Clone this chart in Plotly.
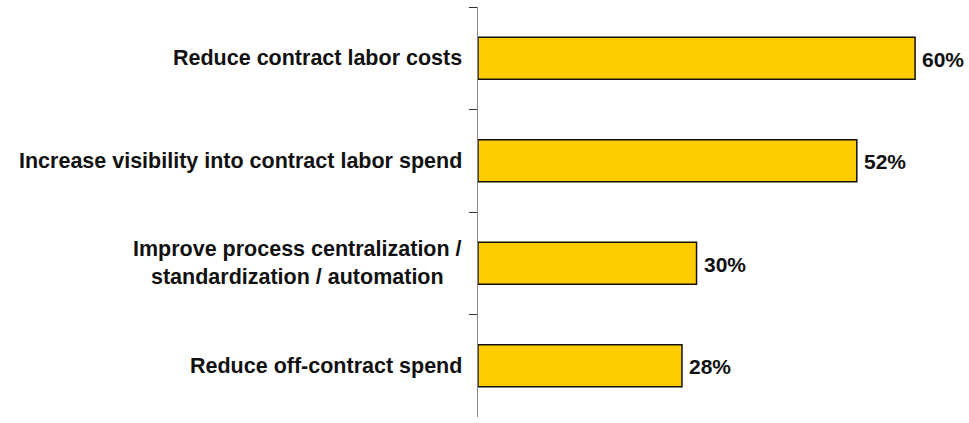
import plotly.graph_objects as go

# Survey goals and share of respondents (%)
categories = [
    "Reduce contract labor costs",
    "Increase visibility into contract labor spend",
    "Improve process centralization /<br>standardization / automation",
    "Reduce off-contract spend",
]
values = [60, 52, 30, 28]

FONT = "Liberation Sans, Arial, sans-serif"

fig = go.Figure(
    go.Bar(
        x=values,
        y=categories,
        orientation="h",
        marker=dict(color="#FFCC00", line=dict(color="#111111", width=1.5)),
        hoverinfo="skip",
    )
)

# Category labels drawn as annotations so wrapped lines stay centred
for cat in categories:
    fig.add_annotation(
        x=0, xref="paper", y=cat, yref="y",
        text=f"<b>{cat}</b>", showarrow=False,
        xanchor="right", align="center", xshift=-14,
        font=dict(family=FONT, size=21.5, color="#111111"),
    )

# Percentage labels just past the end of each bar
for cat, v in zip(categories, values):
    fig.add_annotation(
        x=v, xref="x", y=cat, yref="y",
        text=f"<b>{v}%</b>", showarrow=False,
        xanchor="left", xshift=5, yshift=-1,
        font=dict(family=FONT, size=21, color="#111111"),
    )

fig.update_layout(
    width=969, height=423,
    margin=dict(l=478, r=0, t=7, b=6),
    paper_bgcolor="white", plot_bgcolor="white",
    showlegend=False,
    bargap=0.59,
    font=dict(family=FONT),
)
fig.update_xaxes(range=[0, 67.4], visible=False)
fig.update_yaxes(
    autorange="reversed",
    showticklabels=False,
    showline=True, linecolor="#888888", linewidth=1,
    ticks="outside", tickson="boundaries", ticklen=8,
    tickcolor="#333333", tickwidth=1,
    showgrid=False, zeroline=False,
)

fig.write_html("out.html")
